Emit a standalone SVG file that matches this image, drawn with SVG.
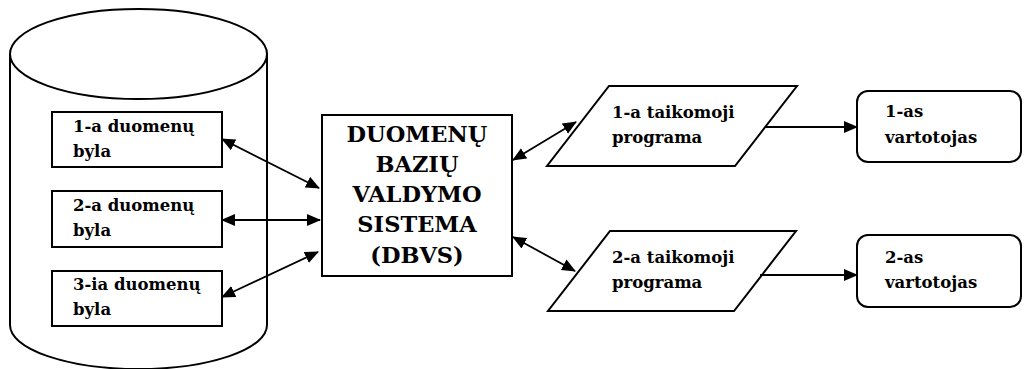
<svg xmlns="http://www.w3.org/2000/svg" width="1027" height="369" viewBox="0 0 1027 369">
<style>
.s{fill:#fff;stroke:#000;stroke-width:2}
.t{font-family:"DejaVu Serif",serif;font-weight:bold;font-size:16.5px;fill:#000}
.b{font-family:"DejaVu Serif",serif;font-weight:bold;font-size:22.5px;fill:#000;text-anchor:middle}
.c{stroke:#000;stroke-width:1.8;fill:none;marker-start:url(#a);marker-end:url(#a)}
.c1{stroke:#000;stroke-width:1.8;fill:none;marker-end:url(#a)}
</style>
<defs>
<marker id="a" viewBox="0 0 14 12" refX="13" refY="6" markerWidth="14" markerHeight="12" markerUnits="userSpaceOnUse" orient="auto-start-reverse">
<path d="M0,0 L14,6 L0,12 Z" fill="#000"/>
</marker>
</defs>
<g id="database">
<path class="s" d="M10,54 L10,325 A128.5,44 0 0 0 267,325 L267,54"/>
<ellipse class="s" cx="138.5" cy="54" rx="128.5" ry="45"/>
</g>
<g id="file1">
<rect class="s" x="52" y="112" width="170" height="55"/>
<text class="t" x="73" y="132">1-a duomenų</text>
<text class="t" x="73" y="157">byla</text>
</g>
<g id="file2">
<rect class="s" x="52" y="191" width="170" height="56"/>
<text class="t" x="73" y="211">2-a duomenų</text>
<text class="t" x="73" y="236">byla</text>
</g>
<g id="file3">
<rect class="s" x="52" y="271" width="170" height="55"/>
<text class="t" x="73" y="290">3-ia duomenų</text>
<text class="t" x="73" y="315">byla</text>
</g>
<g id="dbvs">
<rect class="s" x="322" y="115" width="190" height="161"/>
<text class="b" x="417" y="142">DUOMENŲ</text>
<text class="b" x="417" y="172">BAZIŲ</text>
<text class="b" x="417" y="202">VALDYMO</text>
<text class="b" x="417" y="232">SISTEMA</text>
<text class="b" x="417" y="263">(DBVS)</text>
</g>
<g id="program1">
<polygon class="s" points="609,86 797,86 735,166 547,166"/>
<text class="t" x="612" y="118">1-a taikomoji</text>
<text class="t" x="612" y="143">programa</text>
</g>
<g id="program2">
<polygon class="s" points="610,231 796,231 734,311 548,311"/>
<text class="t" x="612" y="263">2-a taikomoji</text>
<text class="t" x="612" y="288">programa</text>
</g>
<g id="user1">
<rect class="s" x="857" y="91" width="164" height="71" rx="11"/>
<text class="t" x="885" y="117">1-as</text>
<text class="t" x="885" y="143">vartotojas</text>
</g>
<g id="user2">
<rect class="s" x="857" y="235" width="164" height="72" rx="11"/>
<text class="t" x="885" y="263">2-as</text>
<text class="t" x="885" y="288">vartotojas</text>
</g>
<g id="connectors">
<line class="c" x1="222" y1="139" x2="319" y2="188"/>
<line class="c" x1="222" y1="220" x2="320" y2="220"/>
<line class="c" x1="222" y1="297" x2="318" y2="252"/>
<line class="c" x1="513" y1="160" x2="576" y2="122"/>
<line class="c" x1="513" y1="237" x2="575" y2="271"/>
<line class="c1" x1="765" y1="127" x2="857" y2="127"/>
<line class="c1" x1="760" y1="275" x2="857" y2="275"/>
</g>
</svg>
